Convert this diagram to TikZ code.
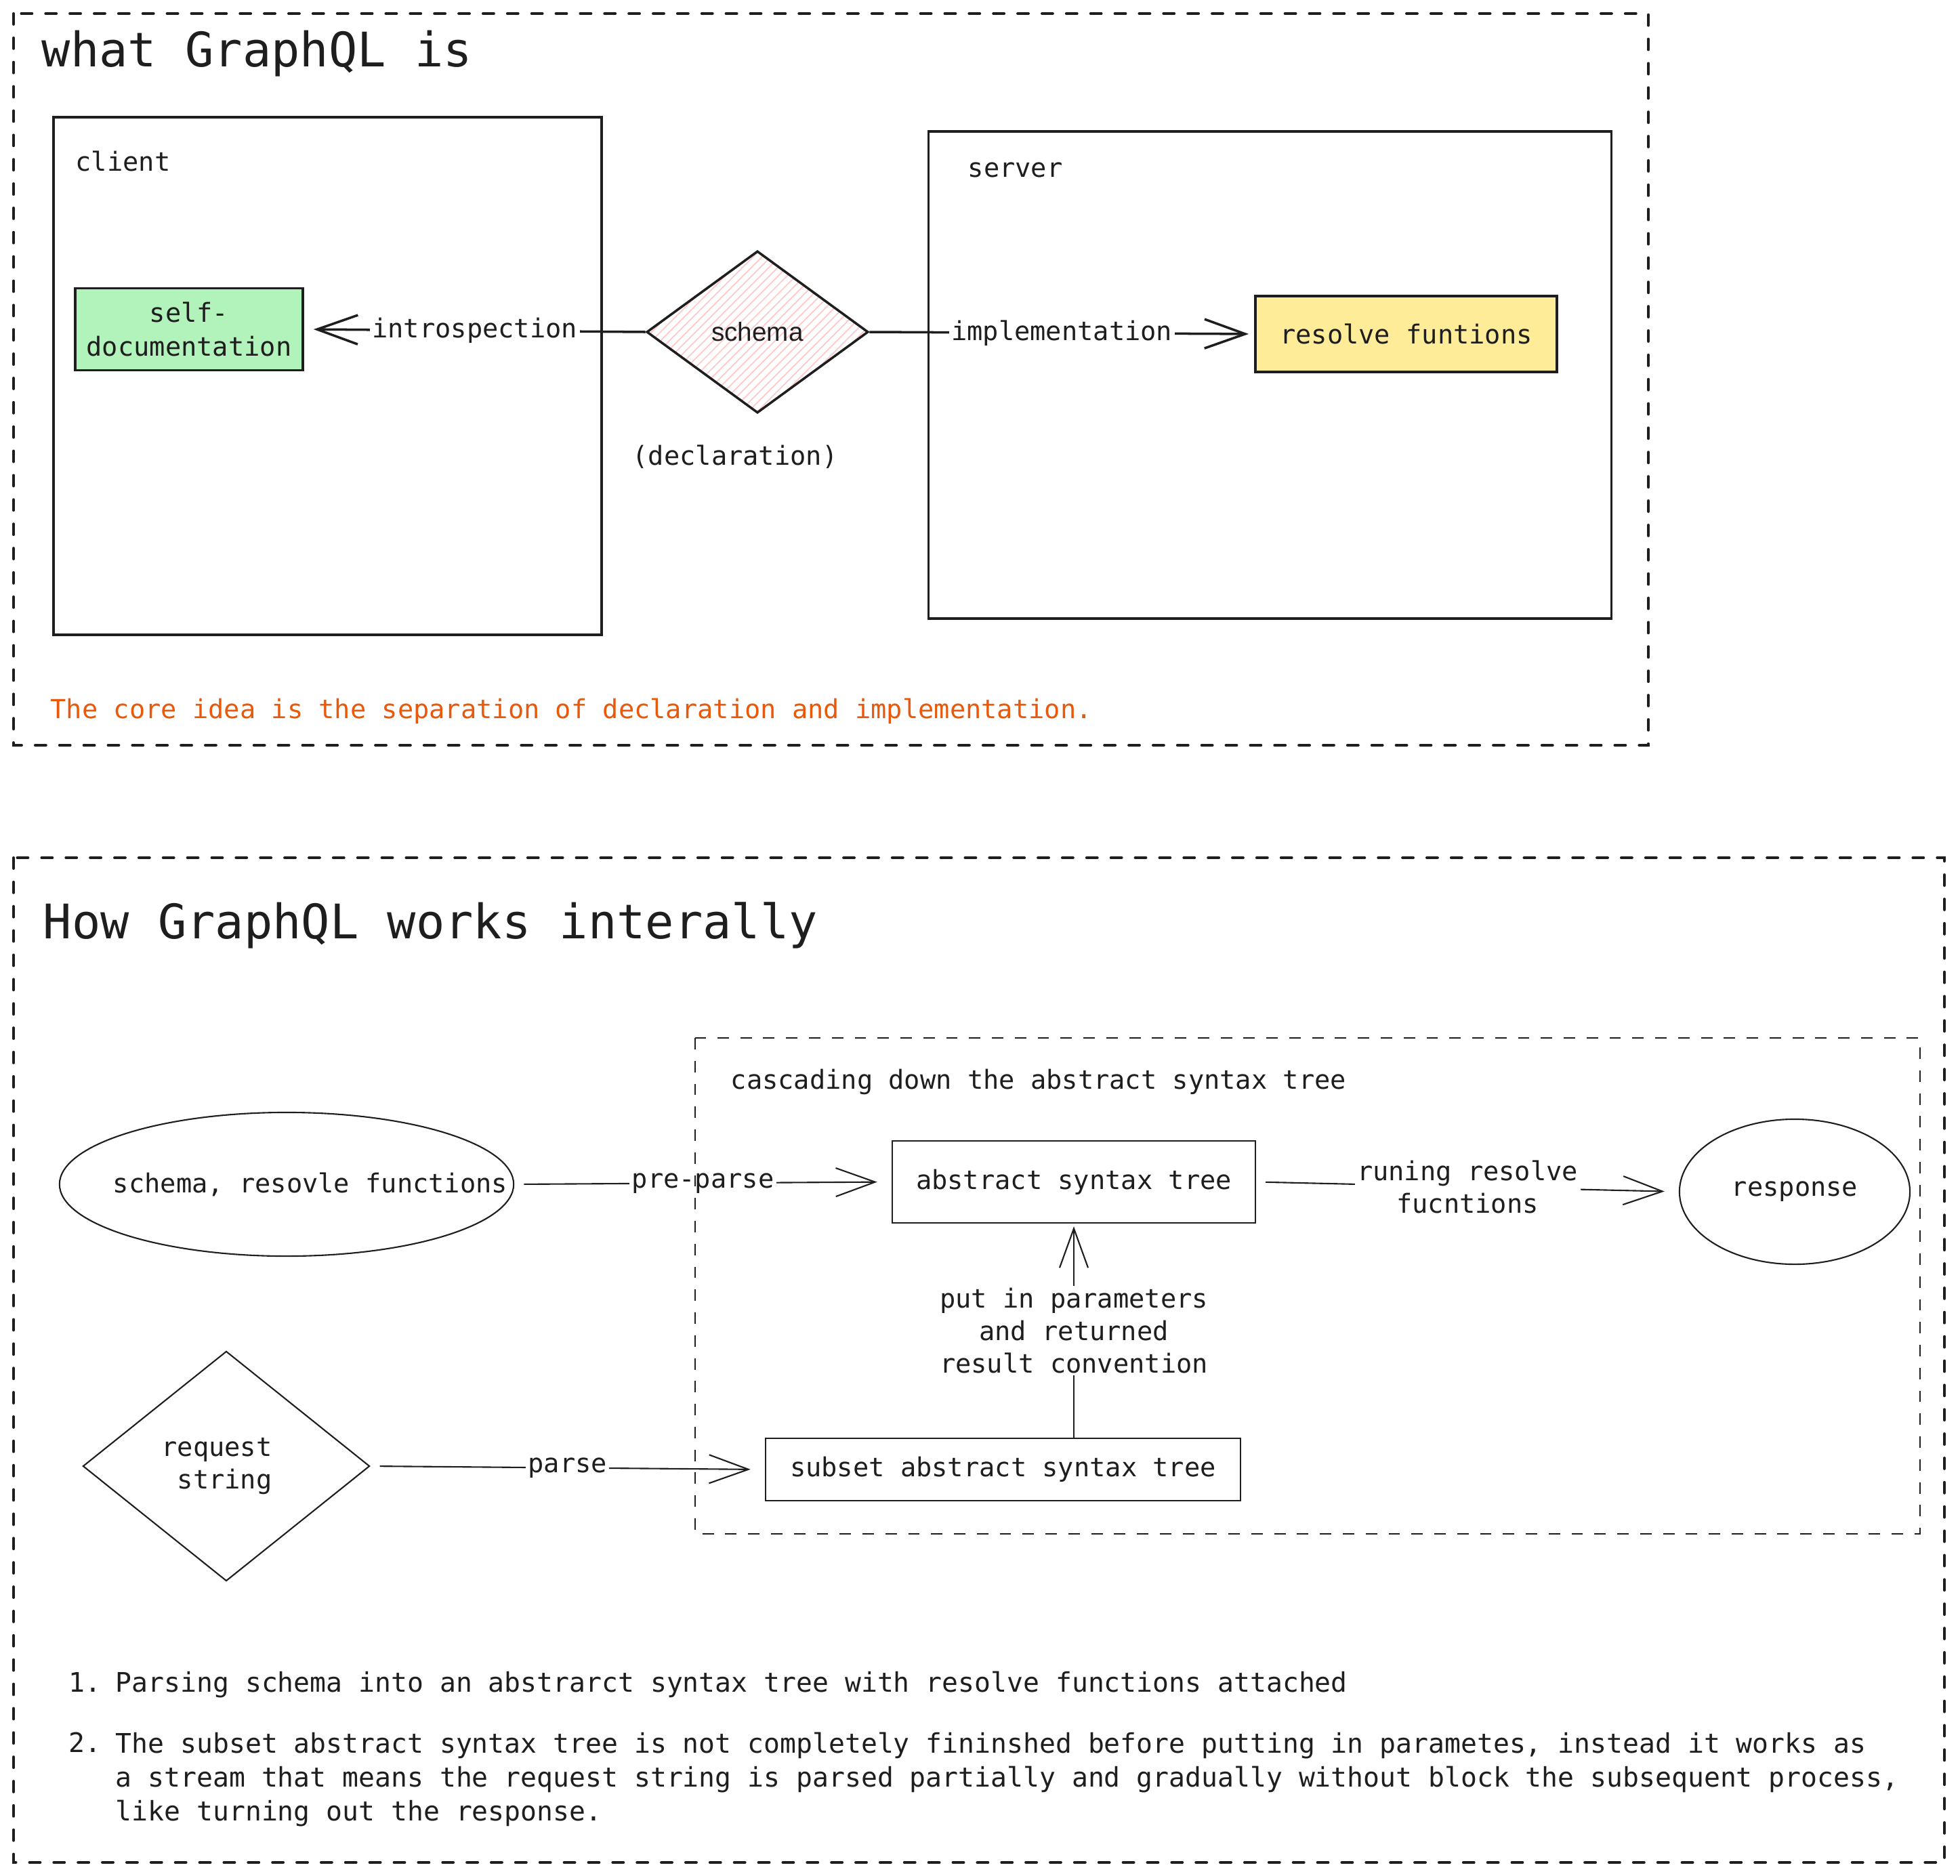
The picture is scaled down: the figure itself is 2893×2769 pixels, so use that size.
\documentclass[tikz,border=0pt]{standalone}
\usepackage{fontspec}
\setmonofont{DejaVu Sans Mono}
\setsansfont{Liberation Sans}
\definecolor{InkDark}{HTML}{1e1e1e}
\definecolor{DocGreen}{HTML}{b2f2bb}
\definecolor{ResolveYellow}{HTML}{ffec99}
\definecolor{HatchPink}{HTML}{ffc9c9}
\definecolor{NoteOrange}{HTML}{e8590c}
\usepackage{tikz}
\usetikzlibrary{arrows.meta,positioning,shapes.geometric,calc}

\begin{document}
\begin{tikzpicture}[x=0.01cm,y=-0.01cm,
    every node/.style={font=\ttfamily\fontsize{11pt}{13.6pt}\selectfont,text=InkDark},
    headline/.style={font=\ttfamily\fontsize{20pt}{24pt}\selectfont,anchor=base west,inner sep=0pt},
    caption/.style={anchor=base west,inner sep=0pt},
    listtext/.style={caption,font=\ttfamily\fontsize{11.3pt}{14.2pt}\selectfont},
    framebox/.style={draw=InkDark,line width=1.15pt,line cap=round,dash pattern=on 4.5pt off 5.7pt},
    innerframe/.style={draw=InkDark,line width=0.8pt,dash pattern=on 4.8pt off 4.8pt},
    panel/.style={draw=InkDark,line width=1pt,inner sep=0pt},
    thinbox/.style={draw=InkDark,line width=0.6pt,inner sep=0pt},
    boldlink/.style={InkDark,line width=1pt,-{Straight Barb[length=6mm,width=4.3mm]}},
    thinlink/.style={InkDark,line width=0.6pt,shorten <=0.14cm,shorten >=0.21cm,
                     -{Straight Barb[length=5.8mm,width=4.2mm]}},
    linktext/.style={fill=white,inner sep=1pt,align=center}]
  \useasboundingbox (0,0) rectangle (2893,2769);

  % --- what GraphQL is
  \draw[framebox] (20,20) rectangle (2433,1100);
  \node[headline] (titleA) at (61,98) {what GraphQL is};

  \node[panel,minimum width=8.09cm,minimum height=7.64cm] (client) at (483.5,555) {};
  \node[caption] (clientlbl) at (111,252) {client};
  \node[panel,fill=DocGreen,minimum width=3.36cm,minimum height=1.21cm,align=center,
        font=\ttfamily\fontsize{11pt}{14.2pt}\selectfont] (selfdoc) at (279,486)
        {self-\\documentation};

  \node[diamond,draw=InkDark,line width=1pt,minimum width=3.27cm,minimum height=2.39cm,
        inner sep=0pt,font=\sffamily\fontsize{11pt}{13pt}\selectfont,
        path picture={\foreach \k in {-26,...,26}{
          \draw[HatchPink,line width=0.5pt] ([xshift=\k*1.3mm]path picture bounding box.center)
              ++(-2cm,-2cm) -- ++(4cm,4cm);}}] (schema) at (1118,490) {schema};
  \node[below=0.45cm of schema,xshift=-0.33cm,inner sep=0pt] (decl) {(declaration)};

  \node[panel,minimum width=10.07cm,minimum height=7.19cm] (server) at (1874.5,553.5) {};
  \node[caption] (serverlbl) at (1428,261) {server};
  \node[panel,fill=ResolveYellow,minimum width=4.45cm,minimum height=1.12cm] (resolve)
        at (2075.5,493) {resolve funtions};

  \draw[boldlink,shorten >=0.14cm] (schema.west) -- node[linktext] {introspection} (selfdoc.east);
  \draw[boldlink,shorten >=0.08cm] (schema.east) -- node[linktext] {implementation} (resolve.west);

  \node[caption,text=NoteOrange] (note) at (74,1060)
        {The core idea is the separation of declaration and implementation.};

  % --- How GraphQL works interally
  \draw[framebox] (20,1266) rectangle (2870,2749);
  \node[headline] (titleB) at (63,1385) {How GraphQL works interally};
  \node[caption] (cascade) at (1078,1607) {cascading down the abstract syntax tree};

  \node[ellipse,thinbox,minimum width=6.7cm,minimum height=2.12cm] (sources) at (423,1748)
        {\makebox[0pt]{\hspace*{0.7cm}schema, resovle functions}};
  \node[thinbox,minimum width=5.36cm,minimum height=1.21cm] (ast) at (1585,1744.5)
        {abstract syntax tree};
  \node[ellipse,thinbox,minimum width=3.4cm,minimum height=2.14cm] (response) at (2649,1759)
        {response};
  \node[diamond,thinbox,minimum width=4.23cm,minimum height=3.39cm,align=right] (request)
        at (334,2164) {\makebox[0pt]{\hspace*{-0.28cm}\begin{tabular}{@{}r@{}}request\\string\end{tabular}}};
  \node[thinbox,minimum width=7.01cm,minimum height=0.92cm] (subset) at (1480.5,2169)
        {subset abstract syntax tree};

  \foreach \a/\b/\t in {sources.east/ast.west/pre-parse,
                        ast.east/response.west/{runing resolve\\fucntions},
                        request.east/subset.west/parse}{
    \draw[thinlink] (\a) -- node[linktext] {\t} (\b);
  }
  \draw[thinlink,shorten <=0pt,shorten >=0.04cm] (ast.south |- subset.north)
        -- node[linktext] {put in parameters\\and returned\\result convention} (ast.south);

  \draw[innerframe] (1026,1532) rectangle (2834,2264);

  \node[listtext] (num1) at (101,2497) {1.};
  \node[listtext] (item1) at (170,2497)
        {Parsing schema into an abstrarct syntax tree with resolve functions attached};
  \node[listtext] (num2) at (101,2586) {2.};
  \node[listtext,align=left] (item2) at (170,2687)
        {The subset abstract syntax tree is not completely fininshed before putting in parametes, instead it works as\\
         a stream that means the request string is parsed partially and gradually without block the subsequent process,\\
         like turning out the response.};
\end{tikzpicture}
\end{document}
